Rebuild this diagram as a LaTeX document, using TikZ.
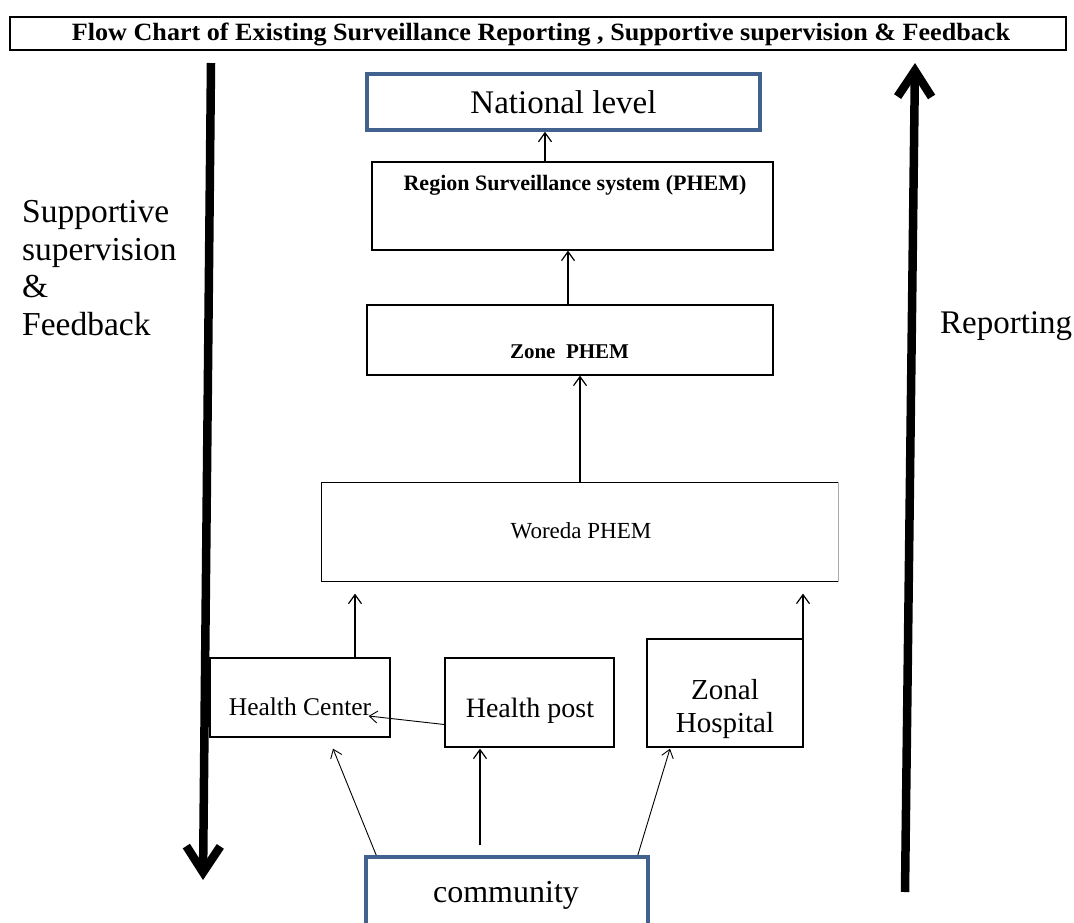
\documentclass[tikz,border=0pt]{standalone}
\usepackage{fontspec}
\setmainfont{Liberation Serif}
\usetikzlibrary{arrows.meta}
\definecolor{boxblue}{RGB}{65,97,143}
\definecolor{edgegrey}{RGB}{170,170,170}
\newcommand{\fs}[2]{\fontsize{#1}{#2}\selectfont}
\begin{document}
\begin{tikzpicture}[x=1pt,y=-1pt,
  box/.style={draw=black,line width=1.3pt,minimum width=#1,inner sep=0pt,anchor=center},
  bluebox/.style={draw=boxblue,line width=3.5pt,inner sep=0pt,anchor=center},
  txt/.style={inner sep=0pt,anchor=base},
  thin/.style={draw=black,line width=1.2pt,-{Straight Barb[length=9pt,width=13pt,line width=1.2pt]}},
  thinner/.style={draw=black,line width=0.9pt,-{Straight Barb[length=8pt,width=12pt,line width=0.9pt]}},
  bigarrow/.style={draw=black,line width=8.5pt,-{Straight Barb[length=26pt,width=34pt,line width=8.5pt]}}
]
\useasboundingbox (0,0) rectangle (1074,922);
% boxes
\node[box=1056pt,minimum height=33pt] (title) at (538,33.5) {};
\node[bluebox,minimum width=393pt,minimum height=56pt] (national) at (563.5,102) {};
\node[box=401pt,minimum height=88pt] (region) at (572.5,206) {};
\node[box=406pt,minimum height=70pt] (zone) at (570,340) {};
\node[box=516pt,minimum height=98pt,draw=none] (woreda) at (580,532) {};
\draw[line width=1.3pt] (woreda.north east) -- (woreda.north west) -- (woreda.south west) -- (woreda.south east);
\draw[line width=1.3pt,edgegrey] (woreda.north east) -- (woreda.south east);
\node[box=180pt,minimum height=79pt] (hc) at (300,697.5) {};
\node[box=169pt,minimum height=89pt] (hp) at (529.5,702.5) {};
\node[box=156pt,minimum height=108pt] (zh) at (725,693) {};
\node[bluebox,minimum width=282pt,minimum height=74pt] (comm) at (507,894) {};
% texts
\node[txt] (ttitle) at (541,40) {\resizebox{938pt}{17.5pt}{\fs{19pt}{22pt}\bfseries Flow Chart of Existing Surveillance Reporting , Supportive supervision \& Feedback}};
\node[txt,font=\fs{33pt}{36pt}] (tnational) at (563.5,113) {National level};
\node[txt,font=\fs{22pt}{24pt}\bfseries] (tregion) at (575,190) {Region Surveillance system (PHEM)};
\node[txt,font=\fs{21pt}{24pt}\bfseries] (tzone) at (569.5,358) {Zone\ \ PHEM};
\node[txt,font=\fs{23pt}{26pt}] (tworeda) at (581,538) {Woreda PHEM};
\node[txt,font=\fs{25.5pt}{28pt}] (thc) at (300,715) {Health Center};
\node[txt,font=\fs{28pt}{30pt}] (thp) at (530,717) {Health post};
\node[txt,align=center,font=\fs{29pt}{33pt}] (tzh) at (725,732) {Zonal\\Hospital};
\node[txt,font=\fs{32pt}{35pt}] (tcomm) at (506,902) {community};
\node[txt,anchor=base west,align=left,font=\fs{33.5pt}{37.5pt}] (tleft) at (22,335) {Supportive\\supervision\\\&\\Feedback};
\node[txt,anchor=base west,font=\fs{33pt}{34pt}] (tright) at (940,333) {Reporting};
% x positions of connectors
\coordinate (xa) at (545,0);
\coordinate (xb) at (568,0);
\coordinate (xc) at (580,0);
\coordinate (xd) at (355,0);
\coordinate (xe) at (803,0);
\coordinate (xf) at (480,0);
% vertical connectors
\draw[thin] (xa |- region.north) -- (xa |- national.south);
\draw[thin] (xb |- zone.north) -- (xb |- region.south);
\draw[thin] (xc |- woreda.north) -- (xc |- zone.south);
\draw[thin,shorten >=12pt] (xd |- hc.north) -- (xd |- woreda.south);
\draw[thin,shorten >=12pt] (xe |- zh.north) -- (xe |- woreda.south);
\draw[thinner] ([yshift=-22pt]hp.west) -- ([xshift=-22pt,yshift=-18.5pt]hc.east);
% community connectors
\draw[thinner] ([xshift=12pt]comm.north west) -- ([xshift=33pt,yshift=-11pt]hc.south);
\draw[thin,shorten <=10pt] (xf |- comm.north) -- ([yshift=-1pt]xf |- hp.south);
\draw[thinner] ([xshift=-12pt]comm.north east) -- ([xshift=-55pt,yshift=-1pt]zh.south);
% big arrows
\coordinate (ltop) at (211,63);
\coordinate (lbot) at (203,880);
\coordinate (rbot) at (905,892);
\coordinate (rtop) at (915,63);
\draw[bigarrow] (ltop) -- (lbot);
\draw[bigarrow] (rbot) -- (rtop);
\end{tikzpicture}
\end{document}
